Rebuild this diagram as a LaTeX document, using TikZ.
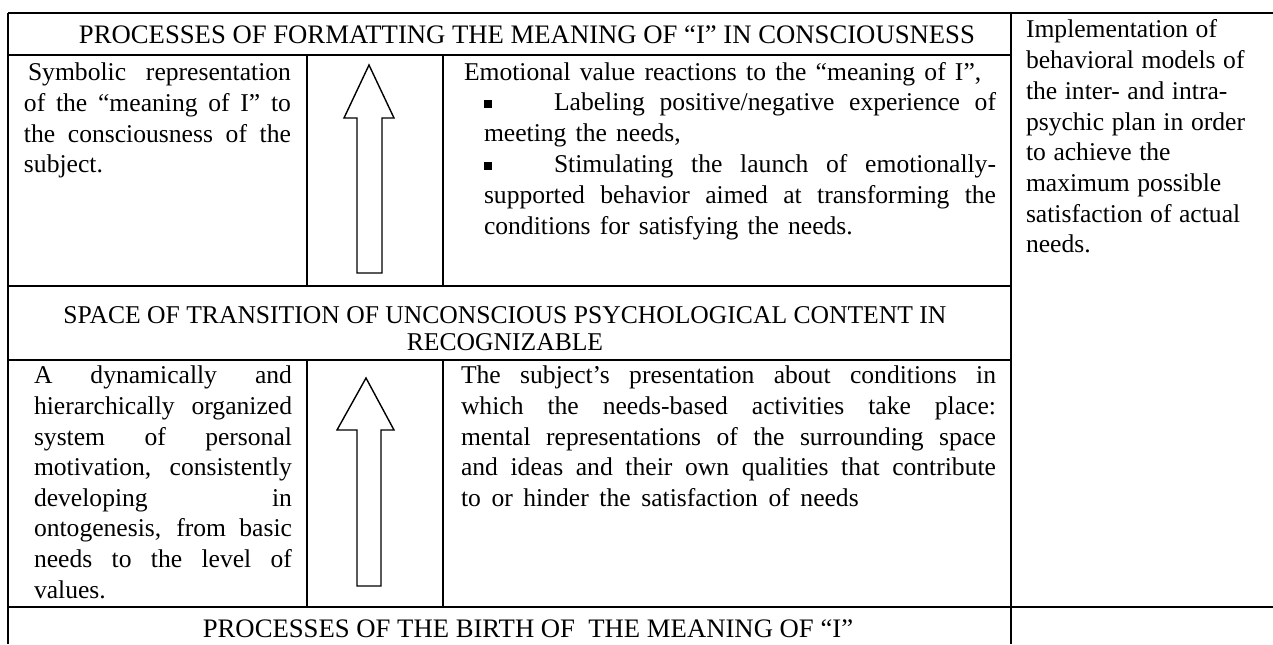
\documentclass[tikz,border=0pt]{standalone}
\usepackage{fontspec}
\setmainfont{Liberation Serif}
\usetikzlibrary{positioning}
\newcommand{\sqbullet}{\makebox[35pt][l]{\raisebox{1.5pt}{\rule{4pt}{4pt}}}}
\newcommand{\loosen}[2][4.6pt]{{\spaceskip=#1 plus 2pt\relax #2}}
\tikzset{
  every picture/.style={line width=1pt},
  grid/.style={draw=black, line width=1pt},
  uparrow/.style={draw=black, fill=white, line width=0.7pt, line join=miter},
  cell/.style={anchor=north west, inner sep=0pt, align=justify, text width=#1,
    font=\fontsize{12.8}{15.3}\selectfont, execute at begin node=\strut},
  side/.style={anchor=north west, inner sep=0pt, align=left, text width=#1,
    font=\fontsize{12.8}{15.35}\selectfont,
    execute at begin node={\spaceskip=3.8pt plus 1pt\relax\strut}},
  head/.style={anchor=base, inner sep=0pt, align=center, font=\fontsize{13.35}{13.5}\selectfont},
  subhead/.style={anchor=base, inner sep=0pt, align=center, font=\fontsize{12.8}{13.5}\selectfont},
}

\begin{document}
\begin{tikzpicture}[x=0.5pt, y=-0.5pt]
  \useasboundingbox (0,0) rectangle (1273,644);
  % table rules
  \draw[grid] (8,13) -- (1273,13);
  \draw[grid] (8,55) -- (1011,55);
  \draw[grid] (8,286) -- (1011,286);
  \draw[grid] (8,360) -- (1011,360);
  \draw[grid] (8,607) -- (1273,607);
  \draw[grid] (8,13) -- (8,644);
  \draw[grid] (1011,13) -- (1011,644);
  \foreach \xc in {307,443} {
    \draw[grid] (\xc,55) -- (\xc,286);
    \draw[grid] (\xc,360) -- (\xc,607);
  }
  % headings
  \node[head] (formatting) at (527,43) {PROCESSES OF FORMATTING THE MEANING OF “I” IN CONSCIOUSNESS};
  \node[subhead] (transition) at (505,350) {SPACE OF TRANSITION OF UNCONSCIOUS PSYCHOLOGICAL CONTENT IN\\RECOGNIZABLE};
  \node[head] (birth) at (528,637) {PROCESSES OF THE BIRTH OF\ \ THE MEANING OF “I”};
  % upper row
  \node[cell=133.5pt] (symbolic) at (23,58.5) {\hspace*{2pt}Symbolic representation\linebreak of the “meaning of I” to\linebreak the consciousness of the\linebreak subject.};
  \node[cell=266pt] (emotional) at (463,58.5) {\loosen{Emotional value reactions to the “meaning of I”,}};
  \node[cell=256pt] (labeling) at (483,88.5) {\sqbullet Labeling positive/negative experience of\linebreak \loosen{meeting the needs,}};
  \node[cell=256pt] (stimulating) at (483,150.5) {\sqbullet Stimulating the launch of emotionally-\linebreak supported behavior aimed at transforming the\linebreak \loosen{conditions for satisfying the needs.}};
  % lower row
  \node[cell=129pt] (motivation) at (33,361.5) {A dynamically and\linebreak hierarchically organized\linebreak system of personal\linebreak motivation, consistently\linebreak developing in\linebreak ontogenesis, from basic\linebreak needs to the level of\linebreak values.};
  \node[cell=267.5pt] (presentation) at (460,361.5) {The subject’s presentation about conditions in\linebreak which the needs-based activities take place:\linebreak mental representations of the surrounding space\linebreak and ideas and their own qualities that contribute\linebreak \loosen[5.3pt]{to or hinder the satisfaction of needs}};
  % right column
  \node[side=120pt] (behavior) at (1025,15.5) {Implementation of\\behavioral models of\\the inter- and intra-\\psychic plan in order\\to achieve the\\maximum possible\\satisfaction of actual\\needs.};
  % arrows
  \draw[uparrow] (369,65) -- (394,118) -- (382,118) -- (382,273) -- (357,273) -- (357,118) -- (344,118) -- cycle;
  \draw[uparrow] (366,378) -- (394,430) -- (381,430) -- (381,586) -- (357,586) -- (357,430) -- (337,430) -- cycle;
\end{tikzpicture}
\end{document}
